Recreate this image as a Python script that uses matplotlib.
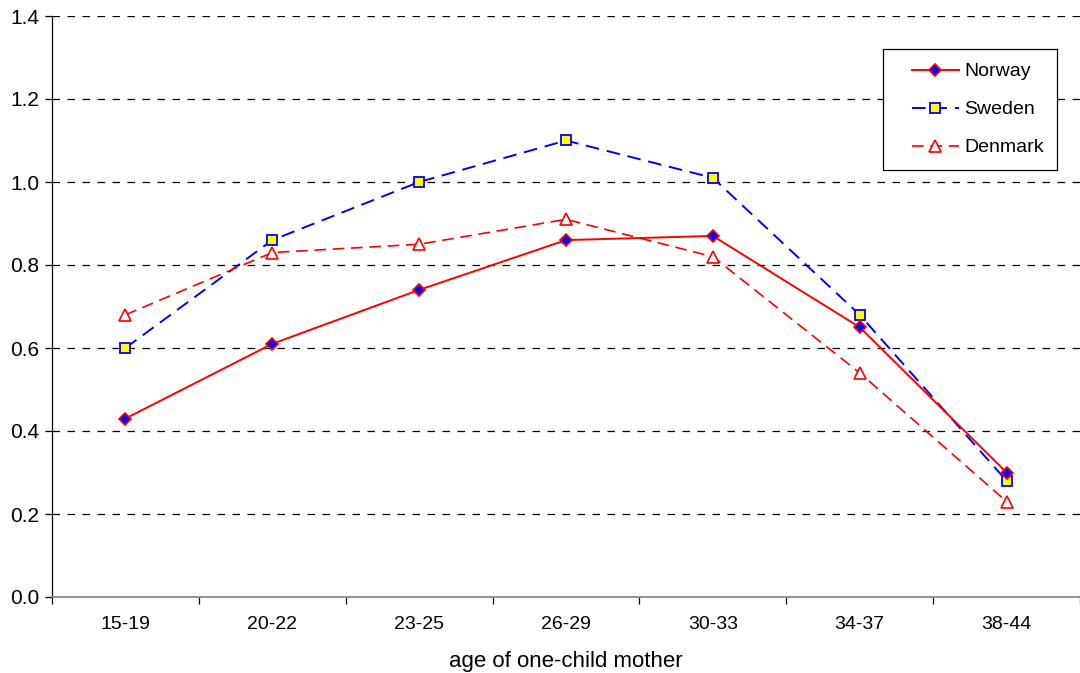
import matplotlib.pyplot as plt
from matplotlib.legend_handler import HandlerLine2D
from matplotlib.lines import Line2D
import numpy as np

ages = ['15-19', '20-22', '23-25', '26-29', '30-33', '34-37', '38-44']
norway = [0.43, 0.61, 0.74, 0.86, 0.87, 0.65, 0.30]
sweden = [0.60, 0.86, 1.00, 1.10, 1.01, 0.68, 0.28]
denmark = [0.68, 0.83, 0.85, 0.91, 0.82, 0.54, 0.23]
yticks = [0.0, 0.2, 0.4, 0.6, 0.8, 1.0, 1.2, 1.4]

plt.rcParams['font.family'] = ['Liberation Sans', 'DejaVu Sans']
plt.rcParams['font.size'] = 14


def main():
    fig = plt.figure(figsize=(10.8, 6.73), dpi=100)
    ax = fig.add_axes([52 / 1080, 76 / 673, 1 - 52 / 1080, 581 / 673])
    x = np.arange(len(ages))

    ax.plot(x, norway, color='#ff0000', lw=1.4, marker='D', ms=6,
            mfc='#0000ff', mec='#ff0000', mew=1.2, label='Norway', zorder=4)
    ax.plot(x, sweden, color='#0000ff', lw=1.4, dashes=(7, 4), marker='s', ms=7,
            mfc='#ffff00', mec='#0000ff', mew=1.3, label='Sweden', zorder=3)
    ax.plot(x, denmark, color='#ff0000', lw=1.2, dashes=(7, 4), marker='^', ms=8,
            mfc='white', mec='#ff0000', mew=1.2, label='Denmark', zorder=3)

    for y in yticks[1:]:
        ax.axhline(y, color='black', lw=0.9, dashes=(6, 6), zorder=1)

    ax.set_xlim(-0.5, len(ages) - 0.5)
    ax.set_ylim(0, 1.4)
    ax.set_yticks(yticks)
    ax.set_yticklabels([f'{v:.1f}' for v in yticks], fontsize=15)
    ax.set_xticks(x)
    ax.set_xticklabels(ages, fontsize=14)
    ax.set_xticks(np.arange(len(ages) + 1) - 0.5, minor=True)
    ax.tick_params(axis='x', which='major', length=0, pad=14)
    ax.tick_params(axis='x', which='minor', length=5, direction='out', width=0.9)
    ax.tick_params(axis='y', length=5, direction='out', width=0.9, pad=4)
    ax.set_xlabel('age of one-child mother', fontsize=16, labelpad=13)

    ax.spines['top'].set_visible(False)
    ax.spines['right'].set_visible(False)
    ax.spines['left'].set_linewidth(0.9)
    ax.spines['bottom'].set_color('#808080')
    ax.spines['bottom'].set_linewidth(1.2)

    # extra room left of the legend handles, like the Excel legend
    leg = ax.legend(loc='upper right', bbox_to_anchor=(0.978, 0.943),
                    fancybox=False, edgecolor='black', framealpha=1,
                    borderpad=0.7, labelspacing=1.05, handlelength=3.2,
                    handletextpad=0.25, borderaxespad=0, fontsize=14,
                    handler_map={Line2D: HandlerLine2D(xpad=0.75)})
    leg.get_frame().set_linewidth(0.9)

    fig.savefig('out.png', dpi=100)


if __name__ == '__main__':
    main()
